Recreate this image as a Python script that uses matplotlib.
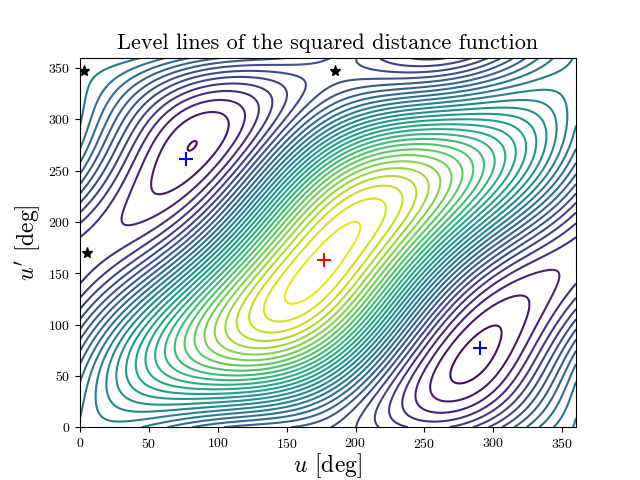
import numpy as np
import matplotlib
matplotlib.use("Agg")
import matplotlib.pyplot as plt

plt.rcParams["font.family"] = "serif"
plt.rcParams["font.serif"] = ["cmr10", "DejaVu Serif"]
plt.rcParams["mathtext.fontset"] = "cm"
plt.rcParams["axes.formatter.use_mathtext"] = True

# critical points (deg) and relative function values
max_pts = [(177, 163)]
min_pts = [(77, 261), (290, 77)]
saddle_pts = [(3, 347), (185, 347), (5, 170)]
max_val = [1.0]
min_val = [0.0, 0.0]
saddle_val = [0.12, 0.12, 0.12]

def basis(u, v):
    return [np.ones_like(u), np.cos(u), np.sin(u), np.cos(v), np.sin(v),
            np.cos(u - v), np.sin(u - v), np.cos(u + v), np.sin(u + v),
            np.cos(2*u), np.sin(2*u), np.cos(2*v), np.sin(2*v)]

def dbasis(u, v):
    du = [0, -np.sin(u), np.cos(u), 0, 0, -np.sin(u - v), np.cos(u - v),
          -np.sin(u + v), np.cos(u + v), -2*np.sin(2*u), 2*np.cos(2*u), 0, 0]
    dv = [0, 0, 0, -np.sin(v), np.cos(v), np.sin(u - v), -np.cos(u - v),
          -np.sin(u + v), np.cos(u + v), 0, 0, -2*np.sin(2*v), 2*np.cos(2*v)]
    return du, dv

rows, rhs = [], []
for pts, vals in [(max_pts, max_val), (min_pts, min_val), (saddle_pts, saddle_val)]:
    for (a, b), val in zip(pts, vals):
        u, v = np.radians(a), np.radians(b)
        rows.append([float(x) for x in basis(np.array(u), np.array(v))]); rhs.append(val)
        du, dv = dbasis(u, v)
        rows.append([float(x)*3 for x in du]); rhs.append(0)
        rows.append([float(x)*3 for x in dv]); rhs.append(0)
for k in range(9, 13):
    r = [0.0]*13; r[k] = 0.5
    rows.append(r); rhs.append(0)
coef = np.linalg.lstsq(np.array(rows), np.array(rhs), rcond=None)[0]

g = np.linspace(0, 360, 400)
U, V = np.meshgrid(g, g)
Z = sum(c * b for c, b in zip(coef, basis(np.radians(U), np.radians(V))))

fig, ax = plt.subplots(figsize=(6.4, 4.8), dpi=100)
ax.contour(U, V, Z, levels=36, cmap="viridis", linewidths=1.5)
ax.plot(*zip(*max_pts), "r+", ms=10, mew=1.5)
ax.plot(*zip(*min_pts), "b+", ms=10, mew=1.5)
ax.plot(*zip(*saddle_pts), "k*", ms=8)
ax.set_xlim(0, 360); ax.set_ylim(0, 360)
ax.set_xlabel(r"$u$ [deg]", fontsize=17, labelpad=0)
ax.set_ylabel(r"$u'$ [deg]", fontsize=17)
ax.set_title("Level lines of the squared distance function", fontsize=16)
fig.savefig("out.png")
